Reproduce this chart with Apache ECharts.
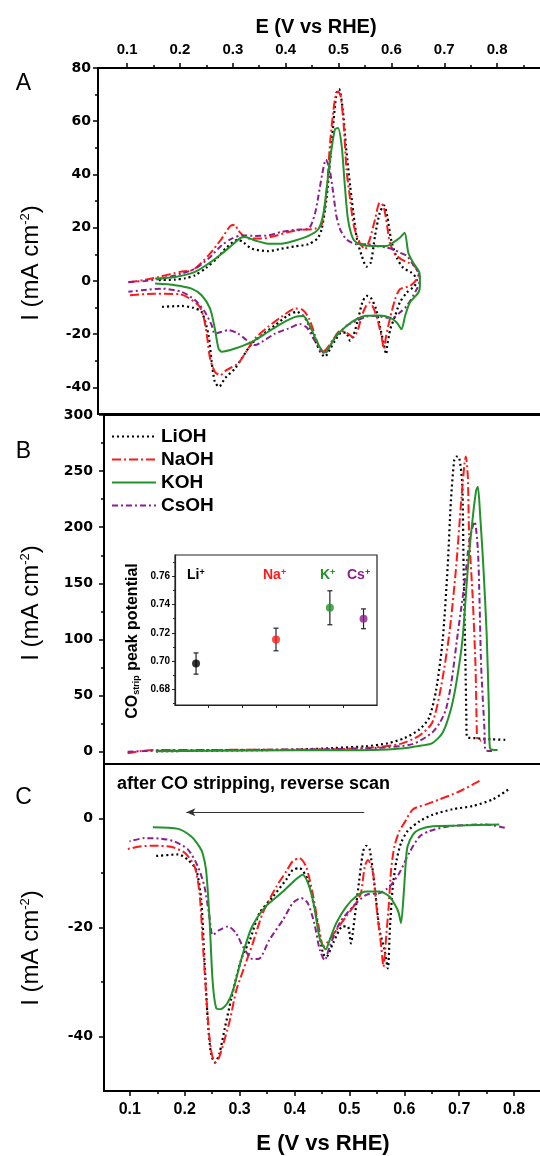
<!DOCTYPE html>
<html><head><meta charset="utf-8">
<script src="https://cdn.jsdelivr.net/npm/echarts@6/dist/echarts.min.js"></script>
<style>html,body{margin:0;padding:0;background:#fff}#c{width:540px;height:1156px}</style>
</head><body><div id="c"></div>
<script>
// ---------- tick values ----------
const xTickValues = [0.1,0.2,0.3,0.4,0.5,0.6,0.7,0.8];
const xMinorValues = [0.15,0.25,0.35,0.45,0.55,0.65,0.75,0.85];
const yTicksA = [-40,-20,0,20,40,60,80];
const yMinorA = [-30,-10,10,30,50,70];
const yTicksB = [0,50,100,150,200,250,300];
const yMinorB = [25,75,125,175,225,275];
const yTicksC = [-40,-20,0];
const yMinorC = [-30,-10];
const insetYTicks = [0.68,0.70,0.72,0.74,0.76];
const insetYMinor = [0.67,0.69,0.71,0.73,0.75,0.77];
const insetXTicks = [1,2,3,4,5];

// ---------- series names ----------
const seriesNames = ['LiOH','NaOH','KOH','CsOH'];
const cations = ['Li','Na','K','Cs'];

// ---------- inset data ----------
const insetX = [0.625, 3.0, 4.6, 5.6];
const insetPeak = [0.6983, 0.7153, 0.7377, 0.7299];
const insetErr = [0.0075, 0.008, 0.012, 0.007];

// ---------- Panel A: CVs (E, I) ----------
const cvA_LiOH = [[0.16,0.3],[0.191,0.5],[0.21,1],[0.2285,2.1],[0.25,5],[0.2695,8.4],[0.288,12.5],[0.31,15.5],[0.32,14.5],[0.336,12.1],[0.367,11.2],[0.392,12.1],[0.418,13],[0.443,13.8],[0.46,15.9],[0.468,19.4],[0.477,30.6],[0.487,51.9],[0.496,70.6],[0.501,72.1],[0.508,64.4],[0.514,50.6],[0.522,35.6],[0.528,25.6],[0.535,15.6],[0.544,9.4],[0.553,5.4],[0.561,6.9],[0.569,16.9],[0.578,25.6],[0.586,28.4],[0.592,24.4],[0.6,15],[0.61,8.8],[0.622,5],[0.638,3.1],[0.648,0.6],[0.644,-1.9],[0.629,-4.4],[0.616,-8.1],[0.607,-13.1],[0.598,-18.1],[0.592,-24.4],[0.59,-27.5],[0.585,-23.1],[0.578,-16.9],[0.571,-10.6],[0.561,-6.3],[0.553,-5.6],[0.545,-8.1],[0.537,-14.4],[0.528,-20.6],[0.522,-22.5],[0.514,-19.4],[0.506,-19.4],[0.493,-22.5],[0.484,-25.6],[0.474,-28.5],[0.465,-26.5],[0.455,-22],[0.445,-17],[0.435,-13.5],[0.421,-11.6],[0.405,-12.9],[0.38,-16.6],[0.355,-20.4],[0.336,-23.5],[0.317,-29.1],[0.304,-32.9],[0.285,-36.6],[0.274,-39.8],[0.266,-37.9],[0.26,-30.4],[0.254,-20.4],[0.241,-11.6],[0.225,-10.1],[0.203,-9.4],[0.162,-9.8]];
const cvA_NaOH = [[0.1025,-0.5],[0.13,0.3],[0.16,1.5],[0.2,3.4],[0.225,4.2],[0.254,9.6],[0.279,15.9],[0.295,20.6],[0.304,21.1],[0.31,19],[0.329,15.9],[0.355,15.9],[0.38,16.9],[0.405,18.4],[0.43,19.2],[0.455,19.6],[0.468,21],[0.478,35],[0.484,51.9],[0.493,68],[0.499,71.2],[0.504,69.4],[0.51,58],[0.515,41.9],[0.522,30.6],[0.529,20.6],[0.54,14.4],[0.55,11.9],[0.559,15.6],[0.569,23.1],[0.578,29.4],[0.585,28.1],[0.592,20.6],[0.597,14.4],[0.607,10],[0.619,8.1],[0.632,6.9],[0.644,5.6],[0.651,2.5],[0.648,0.6],[0.635,-1.9],[0.616,-3.1],[0.607,-6.9],[0.597,-14.4],[0.59,-20.6],[0.586,-25.6],[0.581,-20.6],[0.575,-15.6],[0.567,-10.6],[0.559,-8.1],[0.552,-9.4],[0.544,-13.1],[0.537,-18.1],[0.528,-21.2],[0.515,-19.4],[0.503,-18.8],[0.49,-21.9],[0.477,-25.6],[0.468,-26.9],[0.459,-22.5],[0.445,-14.5],[0.433,-11],[0.418,-10.4],[0.392,-13.5],[0.367,-17.2],[0.342,-21.6],[0.329,-25.4],[0.31,-31],[0.288,-33.5],[0.276,-35.4],[0.266,-34.1],[0.257,-29.1],[0.251,-20.4],[0.244,-12.9],[0.235,-9.1],[0.2,-5],[0.153,-4.8],[0.1025,-5.4]];
const cvA_KOH = [[0.153,0.9],[0.191,1.5],[0.2285,3.4],[0.254,6.5],[0.279,10.2],[0.298,13.4],[0.314,16.1],[0.323,16.5],[0.342,15.2],[0.367,14],[0.392,14],[0.418,15.2],[0.443,16.9],[0.462,19.5],[0.472,26],[0.484,45.6],[0.493,56.9],[0.499,57.5],[0.506,50.6],[0.512,35.6],[0.518,23],[0.528,15.6],[0.54,13.8],[0.566,13.1],[0.591,13.1],[0.603,14.4],[0.616,16.2],[0.625,18.1],[0.632,10.6],[0.641,6.9],[0.653,3.1],[0.654,-1.9],[0.651,-4.4],[0.635,-8.1],[0.626,-13.1],[0.619,-18.1],[0.61,-15.6],[0.597,-13.8],[0.578,-13],[0.553,-13.1],[0.534,-14.4],[0.515,-16.9],[0.496,-20.6],[0.484,-24.4],[0.474,-26.9],[0.465,-25],[0.455,-21],[0.446,-17],[0.433,-13.2],[0.418,-13.5],[0.392,-16],[0.367,-19.1],[0.336,-22.9],[0.304,-25.4],[0.279,-26.6],[0.273,-25.4],[0.266,-17.9],[0.257,-10.4],[0.241,-5.4],[0.222,-2.9],[0.191,-1.6],[0.153,-1]];
const cvA_CsOH = [[0.1025,-0.4],[0.134,0],[0.1655,0.9],[0.2033,2.8],[0.2285,4.6],[0.254,8.4],[0.279,13.4],[0.298,15.9],[0.317,17.1],[0.342,16.9],[0.367,17.1],[0.392,18.4],[0.418,19.2],[0.443,19.6],[0.455,25],[0.462,32],[0.469,40],[0.476,45.6],[0.483,42],[0.49,33],[0.496,24.4],[0.503,19.4],[0.515,15.6],[0.534,13.8],[0.553,13.8],[0.572,13.1],[0.591,12.5],[0.603,11.9],[0.616,10.6],[0.629,9.4],[0.641,6.2],[0.651,3.1],[0.654,0.6],[0.648,-3.1],[0.629,-9.4],[0.616,-11.9],[0.603,-13.8],[0.591,-13.8],[0.572,-13.1],[0.553,-13.4],[0.534,-15],[0.515,-16.9],[0.496,-20.6],[0.484,-24.4],[0.474,-27.4],[0.465,-25.5],[0.452,-21.5],[0.44,-17.5],[0.427,-16.2],[0.405,-17.9],[0.38,-19.8],[0.355,-22.9],[0.342,-24.1],[0.326,-22.2],[0.31,-19.8],[0.292,-18.5],[0.279,-19.1],[0.266,-19.8],[0.26,-16.6],[0.247,-11.6],[0.2285,-7.2],[0.203,-4.1],[0.1655,-2.9],[0.128,-3.5],[0.1025,-4.1]];

// ---------- Panel B: CO stripping ----------
const coB_LiOH = [[0.148,0.3],[0.2,0.6],[0.3,1.2],[0.4,1.8],[0.47,3.2],[0.53,4.8],[0.57,7.5],[0.6,12],[0.627,19.6],[0.645,30],[0.658,55],[0.67,100],[0.679,165],[0.685,224],[0.691,260],[0.695,263],[0.7,262],[0.7055,239],[0.708,165],[0.7115,76],[0.713,30],[0.714,13],[0.73,12],[0.76,11],[0.787,10.5]];
const coB_NaOH = [[0.096,-1.5],[0.12,0.5],[0.148,1.5],[0.3,1.6],[0.45,1.8],[0.543,3.7],[0.591,6.7],[0.627,14.2],[0.651,26],[0.667,58],[0.682,105],[0.6945,165],[0.7037,224],[0.7097,257],[0.712,263],[0.7157,245],[0.718,195],[0.7248,135],[0.7297,76],[0.732,20],[0.733,11],[0.74,10]];
const coB_KOH = [[0.148,0.3],[0.25,0.8],[0.4,1.2],[0.543,1.5],[0.6,3],[0.621,4.7],[0.651,7.7],[0.67,17],[0.685,38],[0.695,62],[0.706,100],[0.716,165],[0.725,210],[0.731,233],[0.734,236],[0.738,212],[0.744,165],[0.75,105],[0.754,40],[0.756,3],[0.77,1.5]];
const coB_CsOH = [[0.096,0],[0.15,0.8],[0.3,1.5],[0.469,2.3],[0.55,3.3],[0.615,6.7],[0.651,17.1],[0.665,26],[0.676,38],[0.6855,61],[0.6975,105.7],[0.7097,150],[0.7188,188.6],[0.728,205],[0.734,180],[0.737,135],[0.74,76],[0.746,20],[0.748,1],[0.76,0.5]];

// ---------- Panel C: reverse scan after stripping ----------
const rvC_LiOH = [[0.789,5.3],[0.761,3.5],[0.725,2.3],[0.688,1.7],[0.652,0.7],[0.628,-0.5],[0.606,-2.3],[0.594,-4.5],[0.586,-7.6],[0.579,-12.5],[0.574,-19.8],[0.57,-27.5],[0.564,-24.1],[0.555,-20.5],[0.546,-12.5],[0.537,-5.7],[0.531,-5],[0.525,-6],[0.515,-13.7],[0.506,-21.1],[0.503,-22.9],[0.497,-19.8],[0.488,-19.8],[0.47,-22.9],[0.458,-25.4],[0.452,-24.8],[0.443,-19.8],[0.433,-14.9],[0.424,-11.2],[0.409,-9.1],[0.397,-9.4],[0.385,-11.2],[0.361,-14.3],[0.336,-17.4],[0.318,-22.5],[0.306,-25],[0.297,-28],[0.285,-33],[0.273,-38.5],[0.263,-43.2],[0.255,-44.8],[0.248,-43.2],[0.242,-37],[0.236,-26],[0.23,-14.9],[0.221,-9.4],[0.206,-7.6],[0.188,-6.6],[0.145,-6.9]];
const rvC_NaOH = [[0.737,6.9],[0.701,5],[0.664,3.5],[0.64,2.6],[0.616,1.7],[0.6,-0.8],[0.591,-2.3],[0.582,-5.1],[0.576,-9.4],[0.572,-15.5],[0.567,-21.7],[0.562,-27.2],[0.558,-23.5],[0.55,-16.8],[0.543,-10],[0.534,-7.6],[0.528,-8.8],[0.521,-13.7],[0.512,-15.5],[0.494,-18],[0.476,-20.5],[0.461,-22.6],[0.453,-23.5],[0.444,-19.8],[0.433,-13.7],[0.421,-8.8],[0.409,-7.3],[0.397,-7.8],[0.385,-9.7],[0.367,-12.5],[0.342,-17.4],[0.324,-22.9],[0.306,-28],[0.294,-31.5],[0.282,-37.1],[0.27,-41.5],[0.262,-44],[0.256,-44.7],[0.25,-43.5],[0.245,-40.1],[0.239,-32.1],[0.233,-22.9],[0.227,-13.7],[0.218,-8.8],[0.2,-6.3],[0.175,-5.2],[0.145,-5],[0.121,-5.1],[0.0964,-5.6]];
const rvC_KOH = [[0.773,-1.1],[0.7,-1.3],[0.652,-1.4],[0.628,-2],[0.616,-2.9],[0.606,-5.1],[0.603,-7.6],[0.599,-13.7],[0.594,-19.2],[0.59,-17.4],[0.585,-16.2],[0.573,-14.3],[0.555,-13.4],[0.531,-13.4],[0.512,-14.3],[0.494,-16.2],[0.476,-19.2],[0.464,-22.3],[0.457,-24],[0.446,-22],[0.436,-16.2],[0.427,-12.5],[0.415,-10.3],[0.4,-11.4],[0.378,-13.5],[0.347,-16.2],[0.322,-20],[0.304,-25.5],[0.288,-31.5],[0.277,-34],[0.265,-35],[0.258,-34.9],[0.251,-30],[0.245,-18],[0.239,-9.5],[0.233,-6.5],[0.227,-5.2],[0.212,-3.3],[0.188,-1.9],[0.142,-1.6]];
const rvC_CsOH = [[0.783,-1.7],[0.749,-1.1],[0.682,-1.4],[0.646,-2.3],[0.628,-3.3],[0.609,-6.3],[0.591,-10],[0.573,-12.5],[0.555,-13.7],[0.531,-14],[0.506,-16.2],[0.482,-19.2],[0.464,-23.5],[0.455,-26],[0.446,-24.1],[0.436,-19.2],[0.424,-15.5],[0.412,-14.6],[0.397,-15.5],[0.379,-18.6],[0.354,-22.3],[0.336,-25.7],[0.324,-25.8],[0.306,-23.5],[0.294,-21.1],[0.279,-19.8],[0.263,-20.5],[0.251,-21.4],[0.245,-18],[0.236,-12.5],[0.224,-8.8],[0.206,-5.7],[0.181,-4.2],[0.157,-3.7],[0.127,-3.6],[0.0995,-4.2]];

const panelA = [cvA_LiOH, cvA_NaOH, cvA_KOH, cvA_CsOH];
const panelB = [coB_LiOH, coB_NaOH, coB_KOH, coB_CsOH];
const panelC = [rvC_LiOH, rvC_NaOH, rvC_KOH, rvC_CsOH];

// ---------- styles ----------
const colors = ['#000000', '#ff1a1a', '#23922b', '#8a1f8e'];
const dashes = [[2,3], [9,3,2,3], 'solid', [6,3,2,3]];
const widths = [2.2, 2, 2, 2];

const chart = echarts.init(document.getElementById('c'), null, {renderer: 'canvas'});

const lblY = {fontFamily: 'DejaVu Sans', fontWeight: 'bold', fontSize: 14, color: '#000'};
function axisX(grid, pos, min, max, major, fontSize) {
  return {
    type: 'value', gridIndex: grid, position: pos, min: min, max: max, show: true,
    axisLine: {show: major, onZero: false, lineStyle: {color: '#000', width: 2}},
    axisTick: {show: true, inside: false, length: major ? 5 : 3, lineStyle: {color: '#000', width: 1.5},
               customValues: major ? xTickValues : xMinorValues},
    axisLabel: {show: major, customValues: xTickValues, margin: 11,
                fontFamily: 'Liberation Sans', fontWeight: 'bold', fontSize: fontSize, color: '#000'},
    splitLine: {show: false}
  };
}
function axisY(grid, min, max, ticks, minor, margin, isMajor) {
  return {
    type: 'value', gridIndex: grid, position: 'left', min: min, max: max,
    axisLine: {show: isMajor, onZero: false, lineStyle: {color: '#000', width: 2}},
    axisTick: {show: true, length: isMajor ? 5 : 3, lineStyle: {color: '#000', width: 1.5},
               customValues: isMajor ? ticks : minor},
    axisLabel: Object.assign({show: isMajor, customValues: ticks, margin: margin}, lblY),
    splitLine: {show: false}
  };
}

const xAxes = [
  axisX(0, 'top', 0.045, 0.9, true, 15),
  axisX(0, 'top', 0.045, 0.9, false, 15),
  {type: 'value', gridIndex: 1, min: 0.053, max: 0.9, show: false, axisLine: {onZero: false}, splitLine: {show: false}},
  axisX(2, 'bottom', 0.053, 0.9, true, 16),
  axisX(2, 'bottom', 0.053, 0.9, false, 16),
  {type: 'value', gridIndex: 3, min: 0, max: 6, position: 'bottom',
   axisLine: {show: true, onZero: false, lineStyle: {color: '#222', width: 1.2}},
   axisTick: {show: true, length: 3, customValues: insetXTicks, lineStyle: {color: '#222', width: 1}},
   axisLabel: {show: false}, splitLine: {show: false}}
];
const yAxes = [
  axisY(0, -50, 80, yTicksA, yMinorA, 7, true),
  axisY(0, -50, 80, yTicksA, yMinorA, 7, false),
  axisY(1, -11, 300, yTicksB, yMinorB, 11, true),
  axisY(1, -11, 300, yTicksB, yMinorB, 11, false),
  axisY(2, -50, 10, yTicksC, yMinorC, 11, true),
  axisY(2, -50, 10, yTicksC, yMinorC, 11, false),
  {type: 'value', gridIndex: 3, min: 0.669, max: 0.775, position: 'left',
   axisLine: {show: true, onZero: false, lineStyle: {color: '#222', width: 1.2}},
   axisTick: {show: true, length: 3, customValues: insetYTicks, lineStyle: {color: '#222', width: 1}},
   axisLabel: {show: true, customValues: insetYTicks, margin: 5, formatter: v => v.toFixed(2),
               fontFamily: 'Liberation Sans', fontWeight: 'bold', fontSize: 10, color: '#000'},
   splitLine: {show: false}},
  {type: 'value', gridIndex: 3, min: 0.669, max: 0.775, position: 'left',
   axisLine: {show: false, onZero: false},
   axisTick: {show: true, length: 2, customValues: insetYMinor, lineStyle: {color: '#222', width: 1}},
   axisLabel: {show: false}, splitLine: {show: false}}
];

const series = [];
const panels = [[panelA, 0, 0], [panelB, 2, 2], [panelC, 3, 4]];
panels.forEach(([arrs, xi, yi]) => {
  arrs.forEach((d, k) => {
    series.push({
      type: 'line', name: seriesNames[k], xAxisIndex: xi, yAxisIndex: yi, data: d,
      symbol: 'none', showSymbol: false, smooth: 0.25, clip: true,
      lineStyle: {color: colors[k], width: widths[k], type: dashes[k]},
      itemStyle: {color: colors[k]}, z: k === 2 ? 4 : 3
    });
  });
});
// arrow in panel C
series.push({
  type: 'line', xAxisIndex: 3, yAxisIndex: 4, data: [], silent: true,
  markLine: {silent: true, symbol: ['none', 'arrow'], symbolSize: [6, 9], animation: false,
    label: {show: false}, lineStyle: {color: '#333', width: 1, type: 'solid'},
    data: [[{coord: [0.527, 1.16]}, {coord: [0.203, 1.16]}]]}
});
// inset error bars
series.push({
  type: 'custom', xAxisIndex: 5, yAxisIndex: 6, z: 20,
  data: insetX.map((x, i) => [x, insetPeak[i], insetErr[i]]),
  renderItem: function (params, api) {
    const x = api.value(0), y = api.value(1), e = api.value(2);
    const t = api.coord([x, y + e]), b = api.coord([x, y - e]);
    const st = {stroke: '#222', lineWidth: 1.2};
    return {type: 'group', children: [
      {type: 'line', shape: {x1: t[0], y1: t[1], x2: b[0], y2: b[1]}, style: st},
      {type: 'line', shape: {x1: t[0] - 2.5, y1: t[1], x2: t[0] + 2.5, y2: t[1]}, style: st},
      {type: 'line', shape: {x1: b[0] - 2.5, y1: b[1], x2: b[0] + 2.5, y2: b[1]}, style: st}
    ]};
  }
});
series.push({
  type: 'scatter', xAxisIndex: 5, yAxisIndex: 6, symbol: 'circle', symbolSize: 8, z: 21,
  data: insetX.map((x, i) => ({value: [x, insetPeak[i]], itemStyle: {color: colors[i]}}))
});

const ionLabelX = [187, 263, 320, 347];
const graphic = [
  {type: 'text', z: 100, x: 316, y: 27, style: {text: 'E (V vs RHE)', font: 'bold 20px "Liberation Sans"', fill: '#000', align: 'center', verticalAlign: 'middle'}},
  {type: 'text', z: 100, x: 323, y: 1144, style: {text: 'E (V vs RHE)', font: 'bold 22px "Liberation Sans"', fill: '#000', align: 'center', verticalAlign: 'middle'}},
  {type: 'text', z: 100, x: 23.5, y: 84, style: {text: 'A', font: '23px "Liberation Sans"', fill: '#000', align: 'center', verticalAlign: 'middle'}},
  {type: 'text', z: 100, x: 23.5, y: 452, style: {text: 'B', font: '23px "Liberation Sans"', fill: '#000', align: 'center', verticalAlign: 'middle'}},
  {type: 'text', z: 100, x: 23.5, y: 798, style: {text: 'C', font: '23px "Liberation Sans"', fill: '#000', align: 'center', verticalAlign: 'middle'}},
  {type: 'text', z: 100, x: 117, y: 784, style: {text: 'after CO stripping, reverse scan', font: 'bold 18px "Liberation Sans"', fill: '#000', align: 'left', verticalAlign: 'middle'}}
];
[263, 603, 948].forEach(cy => {
  graphic.push({type: 'text', z: 100, x: 31, y: cy, rotation: Math.PI / 2,
    style: {text: '{a|I (mA cm}{s|-2}{a|)}', align: 'center', verticalAlign: 'middle', fill: '#000',
      rich: {a: {fontFamily: 'Liberation Sans', fontSize: 24, fill: '#000', color: '#000'},
             s: {fontFamily: 'Liberation Sans', fontSize: 13, fill: '#000', color: '#000', verticalAlign: 'top'}}}});
});
graphic.push({type: 'text', z: 100, x: 133, y: 641, rotation: Math.PI / 2,
  style: {text: '{a|CO}{s|strip}{a| peak potential}', align: 'center', verticalAlign: 'middle',
    rich: {a: {fontFamily: 'Liberation Sans', fontWeight: 'bold', fontSize: 16, color: '#000', fill: '#000'},
           s: {fontFamily: 'Liberation Sans', fontWeight: 'bold', fontSize: 9, color: '#000', fill: '#000', verticalAlign: 'bottom'}}}});
cations.forEach((c, i) => {
  graphic.push({type: 'text', z: 100, x: ionLabelX[i], y: 575,
    style: {text: '{a|' + c + '}{s|+}', align: 'left', verticalAlign: 'middle',
      rich: {a: {fontFamily: 'Liberation Sans', fontWeight: 'bold', fontSize: 14, color: colors[i], fill: colors[i]},
             s: {fontFamily: 'Liberation Sans', fontWeight: 'bold', fontSize: 9, color: colors[i], fill: colors[i], verticalAlign: 'top'}}}});
});

chart.setOption({
  animation: false,
  backgroundColor: '#fff',
  grid: [
    {left: 98, top: 68, width: 452, height: 346, show: true, borderColor: '#000', borderWidth: 2, containLabel: false, outerBoundsMode: 'none'},
    {left: 104, top: 415, width: 465, height: 349, show: true, borderColor: '#000', borderWidth: 2, containLabel: false, outerBoundsMode: 'none'},
    {left: 104, top: 764, width: 465, height: 327, show: true, borderColor: '#000', borderWidth: 2, containLabel: false, outerBoundsMode: 'none'},
    {left: 175, top: 555, width: 202, height: 150, show: true, borderColor: '#222', borderWidth: 1.2, backgroundColor: '#fff', containLabel: false, outerBoundsMode: 'none'}
  ],
  xAxis: xAxes,
  yAxis: yAxes,
  legend: {
    show: true, orient: 'vertical', left: 106, top: 422, itemWidth: 44, itemHeight: 14, itemGap: 4,
    data: seriesNames, selectedMode: false,
    itemStyle: {opacity: 0, color: 'rgba(0,0,0,0)', borderColor: 'rgba(0,0,0,0)', borderWidth: 0},
    textStyle: {fontFamily: 'Liberation Sans', fontWeight: 'bold', fontSize: 19, color: '#000'}
  },
  graphic: graphic,
  series: series
});
</script></body></html>
